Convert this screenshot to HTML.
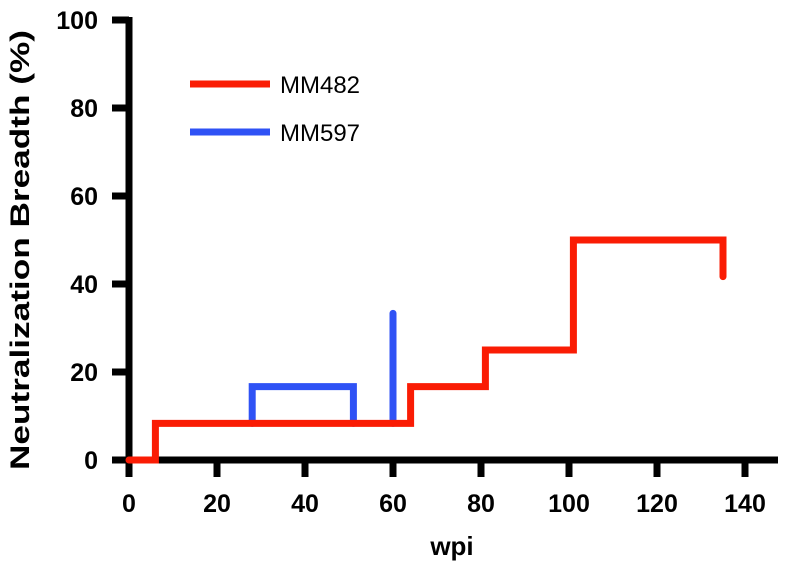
<!DOCTYPE html>
<html><head><style>body{margin:0;background:#fff}svg{display:block}text{font-family:"Liberation Sans",sans-serif}</style></head>
<body>
<svg width="796" height="572">
<g id="axes"></g><g id="series"></g>
<g>
<line x1="190" y1="84" x2="270" y2="84" stroke="#fa1c04" stroke-width="7"/>
<text x="280" y="93" font-size="24">MM482</text>
<line x1="190" y1="132" x2="270" y2="132" stroke="#2f52f5" stroke-width="7"/>
<text x="280" y="141" font-size="24">MM597</text>
</g>
<text x="452" y="555" font-size="26" font-weight="bold" text-anchor="middle">wpi</text>
<text transform="translate(29,250) rotate(-90)" font-size="27" font-weight="bold" text-anchor="middle" textLength="440" lengthAdjust="spacingAndGlyphs">Neutralization Breadth (%)</text>
</svg>
<script>
const xTicks=[0,20,40,60,80,100,120,140];
const yTicks=[0,20,40,60,80,100];
const redX=[0,6,6,64,64,81,81,101,101,135,135];
const redY=[0,0,8.33,8.33,16.67,16.67,25,25,50,50,41.67];
const blueX=[28,28,51,51];
const blueY=[8.33,16.67,16.67,8.33];
const spikeX=[60,60];
const spikeY=[8.33,33.33];
const sx=v=>129+v*4.4, sy=v=>460-v*4.4;
const NS="http://www.w3.org/2000/svg";
const ax=document.getElementById('axes'), se=document.getElementById('series');
function mk(tag,at,p){const e=document.createElementNS(NS,tag);for(const k in at)e.setAttribute(k,at[k]);p.appendChild(e);return e;}
let a=mk('line',{x1:112,y1:sy(0),x2:778,y2:sy(0),stroke:'#000','stroke-width':7},ax);


a=mk('line',{x1:sx(0),y1:477,x2:sx(0),y2:17,stroke:'#000','stroke-width':7},ax);


xTicks.forEach(t=>{
 let l=mk('line',{x1:sx(t),y1:460,x2:sx(t),y2:477,stroke:'#000','stroke-width':7},ax);
 
 
 let tx=mk('text',{x:sx(t),y:512,'font-size':25,'font-weight':'bold','text-anchor':'middle'},ax);tx.textContent=t;
 
 
});
yTicks.forEach(t=>{
 let l=mk('line',{x1:112,y1:sy(t),x2:129,y2:sy(t),stroke:'#000','stroke-width':7},ax);
 
 
 let tx=mk('text',{x:98,y:sy(t)+9,'font-size':25,'font-weight':'bold','text-anchor':'end'},ax);tx.textContent=t;
 
 
});
function path(X,Y,c,name){
 const p=mk('polyline',{points:X.map((x,i)=>sx(x)+','+sy(Y[i])).join(' '),fill:'none',stroke:c,'stroke-width':7,'stroke-linejoin':'miter','stroke-linecap':'round'},se);
 
 
}
path(blueX,blueY,'#2f52f5','mm597-line');
path(spikeX,spikeY,'#2f52f5','mm597-spike');
path(redX,redY,'#fa1c04','mm482-line');
</script>
</body></html>
